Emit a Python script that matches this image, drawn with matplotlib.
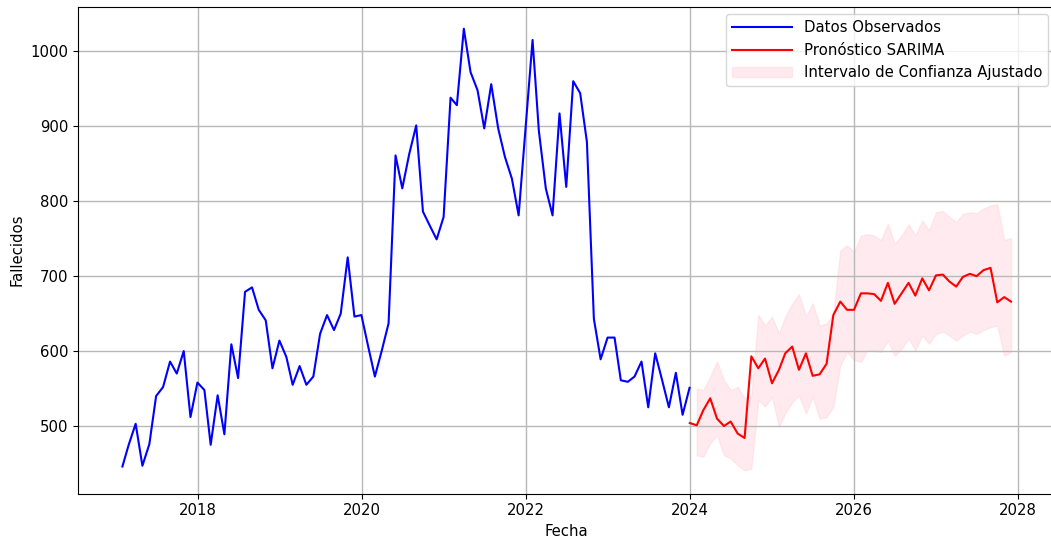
import numpy as np
import pandas as pd
import matplotlib
matplotlib.use('Agg')
import matplotlib.pyplot as plt

plt.rcParams['font.size'] = 10.7

# monthly deaths, Jan 2017 - Dec 2023 (month-end dates)
obs_dates = pd.date_range('2017-02-01', periods=84, freq='MS') - pd.Timedelta(days=1)
observados = [446, 475, 503, 447, 476, 540, 552, 586, 570, 600, 512, 558,
              548, 475, 541, 489, 609, 564, 679, 685, 655, 641, 577, 614,
              592, 555, 580, 555, 566, 623, 648, 628, 650, 725, 646, 648,
              605, 566, 601, 637, 861, 817, 863, 901, 786, 767, 749, 779,
              938, 928, 1030, 972, 948, 897, 956, 897, 859, 830, 781, 898,
              1015, 894, 817, 781, 917, 819, 960, 944, 879, 643, 589, 618,
              618, 561, 559, 566, 586, 525, 597, 561, 525, 571, 515, 551]

# SARIMA forecast, Jan 2024 - Dec 2027
fc_dates = pd.date_range('2024-01-01', periods=48, freq='MS')
pronostico = [504, 501, 521, 537, 510, 500, 506, 490, 484, 593, 577, 590,
              557, 575, 597, 606, 575, 597, 567, 569, 583, 648, 666, 655,
              655, 677, 677, 676, 667, 691, 663, 677, 691, 674, 697, 681,
              701, 702, 693, 686, 699, 703, 700, 708, 711, 665, 672, 666]

# adjusted interval (from the second forecast month on)
ic_inf = [461, 459, 477, 488, 461, 457, 448, 441, 443, 535, 526, 539,
          499, 517, 532, 541, 517, 539, 510, 512, 526, 581, 599, 588,
          586, 601, 601, 599, 614, 594, 603, 617, 601, 621, 610, 623,
          626, 621, 614, 621, 626, 623, 628, 632, 634, 594, 599]
ic_sup = [550, 548, 566, 586, 561, 548, 552, 537, 540, 648, 634, 646,
          623, 646, 663, 676, 646, 664, 634, 637, 650, 734, 741, 732,
          754, 756, 754, 748, 770, 743, 754, 769, 754, 774, 761, 785,
          787, 779, 772, 783, 785, 784, 790, 794, 796, 748, 751]

fig = plt.figure(figsize=(10.51, 5.37), dpi=100)
ax = fig.add_axes([0.0742, 0.081, 0.930, 0.906])

ax.plot(obs_dates, observados, color='blue', label='Datos Observados')
ax.plot(fc_dates, pronostico, color='red', label='Pronóstico SARIMA')
ax.fill_between(fc_dates[1:], ic_inf, ic_sup, color='pink', alpha=0.3,
                label='Intervalo de Confianza Ajustado')

ax.set_ylim(410, 1059)
ax.set_xlabel('Fecha')
ax.set_ylabel('Fallecidos')
ax.legend(loc='upper right', handlelength=4)
ax.grid(True, color='#b8b8b8', linewidth=1.0)

fig.savefig('out.png', dpi=100)
